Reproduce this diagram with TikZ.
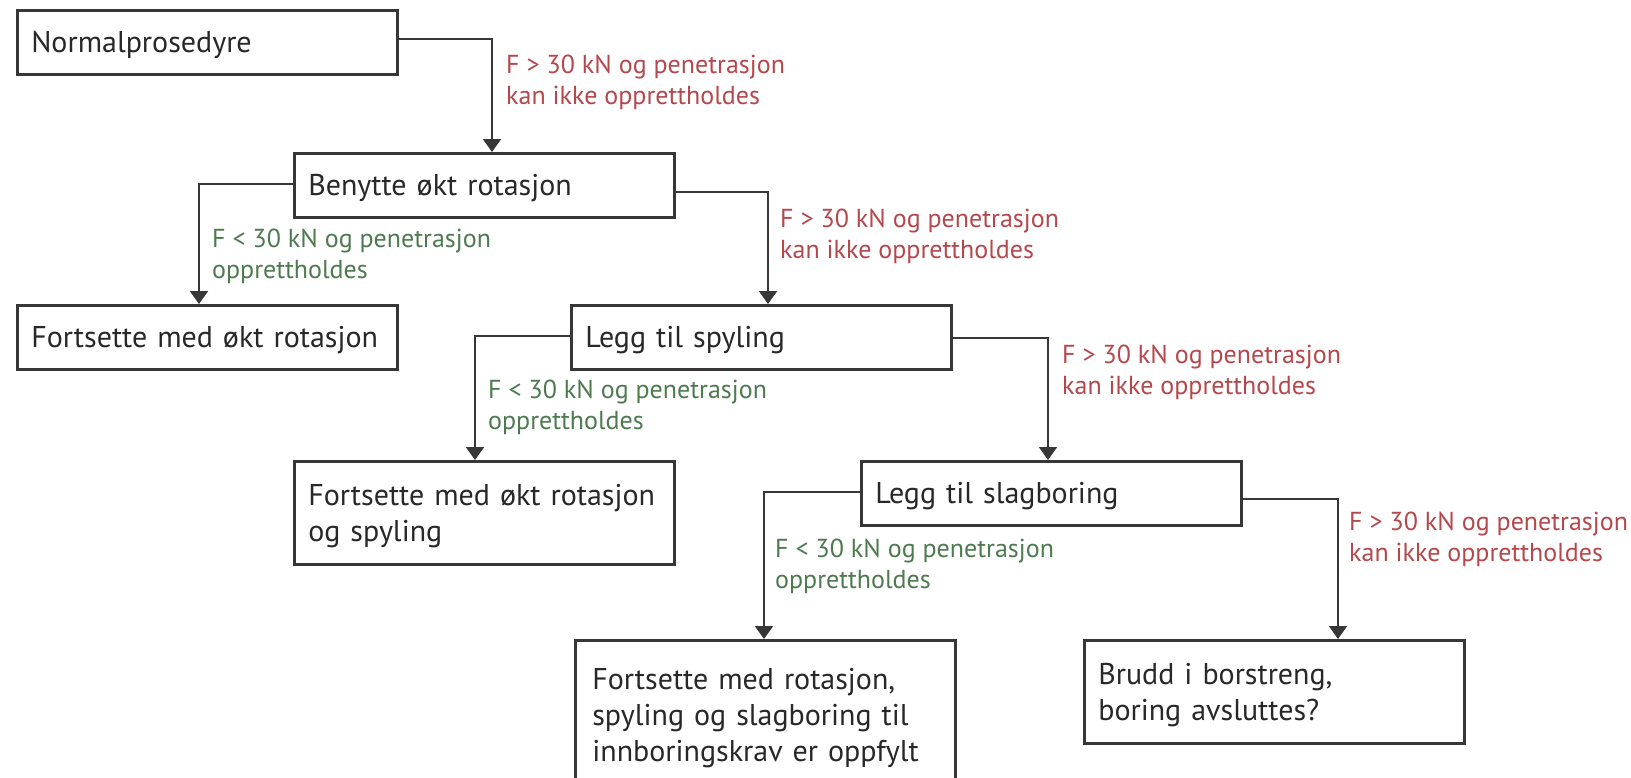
\documentclass[tikz,border=0pt]{standalone}
\usepackage{fontspec}
\setmainfont{PT Sans}
\usetikzlibrary{arrows.meta}
\definecolor{redlab}{RGB}{181,72,76}
\definecolor{greenlab}{RGB}{78,122,80}
\definecolor{boxline}{RGB}{55,55,55}
\definecolor{boxtext}{RGB}{40,40,40}
\begin{document}
\begin{tikzpicture}[x=1pt,y=-1pt,
  box/.style={draw=boxline, line width=2.6pt, rectangle, anchor=north west,
    minimum width=380pt, minimum height=64pt, text width=352pt,
    inner xsep=14pt, inner ysep=0pt, align=left, text=boxtext,
    font=\fontsize{30}{36}\selectfont,
    execute at end node={\vspace*{-7pt}}},
  conn/.style={draw=boxline, line width=2pt, -{Triangle[width=18pt,length=13pt]}},
  lab/.style={anchor=west, inner sep=0pt, align=left, font=\fontsize{26}{31}\selectfont},
  redl/.style={lab, text=redlab},
  greenl/.style={lab, text=greenlab}]
\useasboundingbox (0,0) rectangle (1631,777);
\fill[white] (0,0) rectangle (1631,777);

\node[box] (n0) at (16,9) {Normalprosedyre};
\node[box] (n1) at (293,152) {Benytte økt rotasjon};
\node[box] (n2) at (16,304) {Fortsette med økt rotasjon};
\node[box] (n3) at (570,304) {Legg til spyling};
\node[box, minimum height=103pt] (n4) at (293,460) {Fortsette med økt rotasjon\\og spyling};
\node[box] (n5) at (860,460) {Legg til slagboring};
\node[box, minimum height=148pt, inner xsep=17pt, text width=346pt] (n6) at (574,639) {Fortsette med rotasjon,\\spyling og slagboring til\\innboringskrav er oppfylt};
\node[box, minimum height=103pt] (n7) at (1083,639) {Brudd i borstreng,\\boring avsluttes?};

\draw[conn] ([yshift=3pt]n0.east) -| ([xshift=199pt]n1.north west);
\draw[conn] ([yshift=1pt]n1.west) -| ([xshift=183pt]n2.north west);
\draw[conn] ([yshift=-7pt]n1.east) -| ([xshift=198pt]n3.north west);
\draw[conn] ([yshift=1pt]n3.west) -| ([xshift=182pt]n4.north west);
\draw[conn] ([yshift=-1pt]n3.east) -| ([xshift=188pt]n5.north west);
\draw[conn] ([yshift=1pt]n5.west) -| ([xshift=190pt]n6.north west);
\draw[conn] ([yshift=-6pt]n5.east) -| ([xshift=255pt]n7.north west);

\node[redl] (r1) at (506,82) {F > 30 kN og penetrasjon\\kan ikke opprettholdes};
\node[greenl] (g1) at (212,256.5) {F < 30 kN og penetrasjon\\opprettholdes};
\node[redl] (r2) at (780,236) {F > 30 kN og penetrasjon\\kan ikke opprettholdes};
\node[greenl] (g2) at (488,407.5) {F < 30 kN og penetrasjon\\opprettholdes};
\node[redl] (r3) at (1062,372.5) {F > 30 kN og penetrasjon\\kan ikke opprettholdes};
\node[greenl] (g3) at (775,566.5) {F < 30 kN og penetrasjon\\opprettholdes};
\node[redl] (r4) at (1349,539) {F > 30 kN og penetrasjon\\kan ikke opprettholdes};
\end{tikzpicture}
\end{document}
